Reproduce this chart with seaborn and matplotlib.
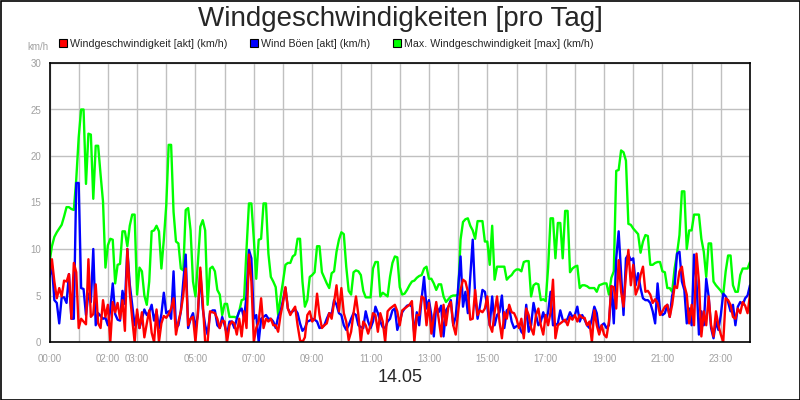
"""Windgeschwindigkeiten pro Tag (14.05) - 5-min values, three series."""
import matplotlib
matplotlib.use("Agg")
import matplotlib.pyplot as plt
from matplotlib.patches import Patch, Rectangle
import numpy as np
import pandas as pd
import seaborn as sns

# 5-minute samples, 00:00 .. 24:00 (289 values), one row = one hour
WIND_AKT = [
    7.3, 8.9, 6.5, 4.7, 5.8, 4.9, 6.6, 6.5, 7.3, 2.5, 8.5, 7.5,
    1.5, 2.5, 2.2, 1.9, 8.9, 2.7, 3.0, 6.2, 2.0, 1.5, 4.5, 2.7,
    4.0, 0.0, 4.3, 3.2, 4.2, 2.5, 4.5, 1.2, 10.0, 5.3, 2.5, 0.0,
    3.5, 1.5, 3.2, 0.5, 2.0, 3.4, 1.0, 0.0, 3.5, 0.0, 2.0, 2.8,
    2.6, 3.0, 3.6, 4.7, 0.8, 2.2, 3.3, 5.0, 7.9, 1.8, 2.5, 2.7,
    0.0, 3.1, 8.0, 4.3, 0.0, 0.0, 3.3, 3.2, 3.1, 2.5, 1.5, 2.3,
    2.2, 0.0, 1.8, 2.2, 2.0, 0.8, 2.5, 0.6, 3.3, 1.5, 9.4, 6.5,
    0.0, 1.5, 2.2, 4.7, 1.5, 2.5, 2.2, 2.5, 1.8, 1.8, 1.1, 2.9,
    4.2, 5.9, 3.6, 2.9, 3.4, 3.8, 1.8, 0.2, 0.0, 0.5, 2.9, 3.3,
    2.2, 2.5, 5.2, 2.9, 1.5, 1.8, 2.0, 3.1, 2.5, 4.3, 6.1, 3.3,
    5.8, 3.1, 2.2, 0.2, 1.1, 3.1, 4.9, 2.9, 0.0, 2.2, 1.8, 0.9,
    1.8, 3.1, 2.9, 1.1, 3.1, 2.2, 0.0, 3.3, 3.6, 3.8, 4.0, 3.3,
    1.8, 3.4, 3.6, 3.8, 4.0, 4.4, 0.0, 2.9, 2.9, 4.9, 4.7, 1.8,
    4.2, 0.9, 2.7, 4.3, 2.5, 0.6, 4.0, 1.8, 3.8, 4.3, 1.8, 0.8,
    3.2, 5.6, 6.7, 6.5, 5.4, 2.4, 2.5, 5.6, 2.9, 3.4, 3.2, 3.6,
    4.9, 1.8, 1.1, 3.2, 4.9, 2.2, 0.4, 3.2, 2.5, 4.0, 3.2, 3.1,
    2.5, 1.5, 2.5, 0.4, 3.6, 2.9, 1.5, 0.8, 2.9, 3.6, 1.8, 0.8,
    2.9, 1.8, 3.2, 6.7, 0.4, 1.8, 2.0, 2.2, 2.4, 1.8, 2.7, 2.4,
    2.9, 2.2, 2.9, 2.6, 2.6, 1.8, 2.2, 0.0, 3.4, 1.8, 0.8, 1.8,
    0.8, 0.5, 2.2, 6.0, 5.9, 3.6, 8.8, 5.4, 3.8, 7.2, 9.9, 6.1,
    8.3, 5.1, 5.8, 7.2, 8.1, 5.4, 5.5, 5.1, 4.2, 4.6, 4.2, 2.9,
    3.3, 3.8, 4.0, 2.7, 4.0, 6.0, 5.8, 7.6, 8.1, 6.1, 5.1, 2.0,
    4.0, 1.8, 9.5, 6.5, 0.6, 3.3, 1.8, 4.9, 1.8, 0.6, 3.3, 1.8,
    0.8, 0.0, 4.7, 4.5, 4.0, 2.7, 2.5, 3.6, 3.1, 4.3, 3.9, 3.1,
    5.1,
]

WIND_BOEEN = [
    7.0, 8.2, 4.5, 4.2, 2.0, 4.8, 4.8, 4.2, 7.3, 2.5, 2.5, 17.1,
    17.1, 5.8, 5.7, 2.9, 5.2, 4.3, 10.0, 1.8, 3.1, 2.8, 2.5, 2.6,
    1.8, 3.5, 6.3, 3.0, 2.4, 2.3, 5.5, 4.1, 10.0, 6.2, 4.0, 1.8,
    3.0, 1.5, 2.5, 3.5, 2.9, 3.2, 4.0, 2.3, 3.3, 1.5, 3.0, 5.3,
    3.1, 3.3, 2.5, 7.6, 1.5, 1.8, 3.3, 6.5, 9.4, 1.5, 2.5, 3.1,
    1.5, 2.9, 7.6, 3.6, 1.8, 0.8, 3.1, 3.4, 3.4, 1.8, 1.5, 2.7,
    1.8, 0.8, 2.2, 2.2, 1.5, 2.5, 3.3, 3.6, 2.5, 5.0, 9.9, 9.0,
    2.5, 2.9, 0.0, 2.5, 2.7, 2.9, 2.5, 2.5, 2.2, 1.5, 2.7, 3.3,
    4.5, 5.8, 3.6, 3.1, 3.3, 3.5, 3.1, 2.0, 1.2, 1.5, 2.2, 2.3,
    2.5, 2.4, 2.2, 1.5, 1.6, 1.8, 2.5, 3.1, 3.0, 4.5, 4.0, 3.1,
    2.9, 1.8, 1.3, 1.8, 2.5, 3.1, 2.9, 1.8, 1.6, 1.5, 3.3, 2.2,
    1.5, 2.2, 3.8, 3.1, 2.2, 1.6, 1.5, 2.2, 2.5, 3.4, 3.6, 1.3,
    2.2, 3.2, 3.6, 3.9, 4.0, 3.8, 0.8, 3.2, 1.8, 4.7, 7.0, 3.6,
    4.5, 2.9, 0.6, 3.9, 3.2, 3.9, 0.6, 3.4, 3.8, 4.5, 1.8, 2.7,
    5.8, 9.2, 3.8, 5.4, 3.1, 7.0, 11.0, 5.0, 2.5, 3.9, 5.6, 5.4,
    3.8, 1.8, 4.9, 1.8, 2.9, 3.2, 5.0, 1.5, 3.4, 3.6, 2.2, 1.5,
    1.7, 1.8, 1.1, 0.8, 4.0, 1.1, 1.8, 4.2, 2.9, 1.8, 2.2, 3.2,
    2.2, 3.2, 5.4, 1.8, 1.8, 2.0, 3.4, 2.4, 2.2, 2.5, 3.2, 2.7,
    2.9, 3.8, 2.2, 2.9, 2.4, 1.8, 1.5, 2.5, 3.8, 3.1, 1.1, 1.8,
    2.0, 1.5, 1.8, 6.0, 2.0, 9.0, 11.9, 7.5, 2.9, 9.0, 9.4, 8.8,
    9.0, 6.1, 7.4, 5.8, 4.7, 4.5, 4.5, 4.2, 3.3, 2.0, 6.3, 3.4,
    2.9, 3.1, 4.0, 2.7, 5.0, 6.0, 9.5, 9.7, 6.5, 5.6, 2.0, 3.6,
    1.8, 9.4, 6.5, 0.8, 3.3, 1.8, 6.8, 4.9, 1.5, 0.4, 2.2, 1.3,
    2.9, 5.2, 4.9, 4.3, 3.3, 4.0, 1.8, 3.8, 4.3, 4.0, 4.7, 5.0,
    6.1,
]

WIND_MAX = [
    8.6, 10.3, 11.3, 11.8, 12.2, 12.6, 13.5, 14.5, 14.5, 14.3, 14.2, 17.5,
    22.0, 25.0, 25.0, 17.0, 22.4, 22.3, 15.4, 21.1, 21.1, 18.0, 15.1, 8.0,
    10.4, 11.1, 11.0, 6.3, 8.3, 8.4, 11.9, 11.9, 10.3, 12.5, 13.7, 13.7,
    5.1, 8.0, 7.6, 5.0, 4.0, 6.5, 11.9, 12.0, 12.5, 11.9, 7.9, 11.0,
    14.7, 21.2, 21.2, 14.0, 10.8, 10.6, 7.9, 7.7, 14.2, 14.4, 12.0, 6.5,
    4.9, 8.5, 12.4, 13.1, 12.0, 4.0, 7.9, 8.1, 7.6, 5.6, 5.1, 2.9,
    4.1, 4.1, 2.7, 2.7, 2.7, 2.6, 3.3, 4.5, 4.6, 10.0, 14.9, 14.9,
    11.1, 6.8, 11.0, 11.1, 14.9, 14.9, 9.5, 7.0, 6.5, 5.9, 2.9, 4.8,
    6.5, 8.3, 8.5, 8.5, 9.2, 9.4, 11.1, 11.1, 6.5, 3.8, 4.5, 7.0,
    7.2, 7.5, 10.3, 10.3, 7.5, 6.9, 6.3, 5.8, 7.4, 7.6, 9.7, 11.0,
    11.8, 11.6, 8.1, 5.5, 5.1, 7.5, 7.7, 7.6, 7.2, 5.5, 4.8, 4.8,
    4.8, 7.9, 8.6, 8.6, 4.9, 5.3, 5.1, 4.9, 7.0, 8.5, 9.2, 9.1,
    5.9, 5.1, 5.2, 5.6, 6.1, 6.5, 6.6, 6.9, 7.1, 7.2, 7.9, 8.1,
    6.8, 6.8, 6.3, 5.6, 6.2, 6.2, 4.9, 4.3, 4.6, 4.9, 5.0, 5.0,
    5.1, 11.0, 12.9, 13.2, 13.3, 12.5, 12.0, 11.1, 13.0, 13.0, 13.0, 10.8,
    10.8, 8.3, 12.5, 6.7, 8.1, 8.1, 8.1, 8.1, 6.7, 7.0, 7.2, 7.6,
    7.8, 7.8, 7.6, 8.6, 8.7, 8.7, 4.9, 6.1, 6.3, 6.2, 4.5, 4.6,
    4.4, 8.0, 13.3, 13.3, 9.0, 12.8, 12.8, 9.0, 14.1, 14.1, 7.5, 7.9,
    8.1, 8.2, 5.8, 6.1, 6.1, 6.0, 5.8, 5.8, 5.8, 5.4, 6.1, 6.2,
    6.3, 6.3, 5.1, 6.9, 7.6, 18.4, 18.5, 20.6, 20.4, 19.5, 12.7, 12.6,
    12.2, 11.9, 11.6, 9.6, 10.8, 11.5, 11.4, 8.3, 8.3, 8.5, 8.6, 8.6,
    7.6, 7.5, 5.8, 5.8, 5.4, 7.9, 9.5, 11.5, 16.2, 16.2, 10.0, 12.0,
    12.0, 13.7, 13.7, 13.7, 11.1, 9.7, 7.0, 10.6, 10.6, 6.5, 6.1, 5.8,
    5.5, 5.1, 7.6, 9.3, 9.3, 6.1, 5.4, 5.4, 7.2, 7.9, 7.9, 7.9,
    8.6,
]

SERIES_NAMES = [
    "Windgeschwindigkeit [akt] (km/h)",
    "Wind Böen [akt] (km/h)",
    "Max. Windgeschwindigkeit [max] (km/h)",
]
LABELED_HOURS = [0, 2, 3, 5, 7, 9, 11, 13, 15, 17, 19, 21, 23]
Y_TICKS = [0, 5, 10, 15, 20, 25, 30]
TITLE = "Windgeschwindigkeiten [pro Tag]"
DATE_LABEL = "14.05"

RED, BLUE, GREEN = "#ff0000", "#0000ff", "#00ff00"
GRID = "#c0c0c0"
TICK_GREY = "#a0a0a0"

sns.set_style("white")
plt.rcParams["font.family"] = ["Liberation Sans", "DejaVu Sans"]

minutes = np.arange(0, 24 * 60 + 1, 5)
df = pd.DataFrame({
    "hour": minutes / 60.0,
    "akt": WIND_AKT,
    "boeen": WIND_BOEEN,
    "max": WIND_MAX,
})

fig = plt.figure(figsize=(8, 4), dpi=100)
ax = fig.add_axes([49.5 / 800, 58 / 400, 700.5 / 800, 279 / 400])

sns.lineplot(data=df, x="hour", y="max", color=GREEN, lw=1.7, ax=ax)
sns.lineplot(data=df, x="hour", y="boeen", color=BLUE, lw=1.7, ax=ax)
sns.lineplot(data=df, x="hour", y="akt", color=RED, lw=1.7, ax=ax)

ax.set_xlim(0, 24)
ax.set_ylim(0, 30)
ax.set_xlabel("")
ax.set_ylabel("")

ax.set_xticks(range(25))
ax.set_xticklabels([f"{h:02d}:00" if h in LABELED_HOURS else "" for h in range(25)])
ax.set_yticks(Y_TICKS)
ax.set_yticklabels([str(v) for v in Y_TICKS])
ax.tick_params(axis="both", which="both", direction="out", length=4, width=1,
               color=TICK_GREY, labelcolor=TICK_GREY, labelsize=7)
ax.tick_params(axis="x", pad=5)
ax.tick_params(axis="y", pad=2)

ax.grid(True, color=GRID, lw=1)
ax.set_axisbelow(True)
for sp in ax.spines.values():
    sp.set_visible(True)
    sp.set_color("black")
    sp.set_linewidth(1.2)

fig.text(0.5, 1 - 19 / 400, TITLE, ha="center", va="center", fontsize=20)
fig.text(48 / 800, 1 - 47 / 400, "km/h", ha="right", va="center", fontsize=7, color=TICK_GREY)
fig.text(0.5, 1 - 378 / 400, DATE_LABEL, ha="center", va="center", fontsize=13)

handles = [Patch(facecolor=c, edgecolor="black", lw=0.8) for c in (RED, BLUE, GREEN)]
fig.legend(handles, SERIES_NAMES, loc="center left", bbox_to_anchor=(59 / 800, 1 - 44 / 400),
           ncol=3, frameon=False, fontsize=7.7, handlelength=0.75, handleheight=0.75,
           handletextpad=0.3, columnspacing=2.1, borderpad=0, borderaxespad=0)

fig.patches.append(Rectangle((0.5 / 800, 0.5 / 400), 799 / 800, 399 / 400, transform=fig.transFigure,
                             fill=False, edgecolor="black", lw=1.2))

fig.savefig("out.png", dpi=100)
plt.close(fig)
